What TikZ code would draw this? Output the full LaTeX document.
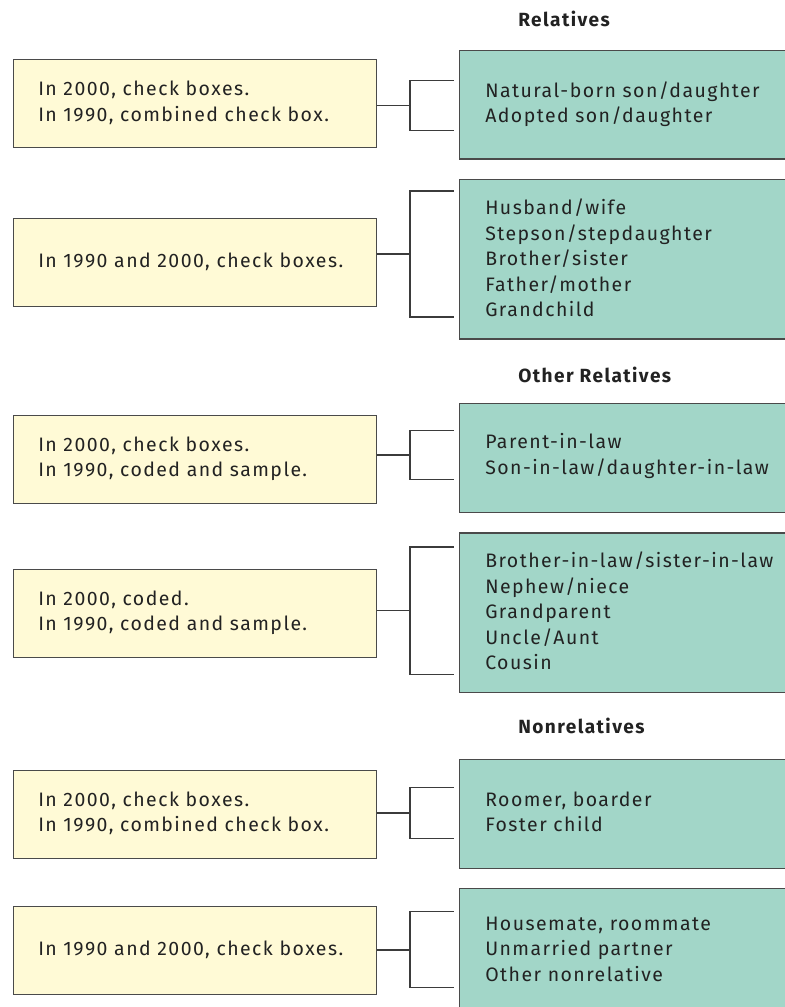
\documentclass[tikz,border=0pt]{standalone}
\usepackage{fontspec}
\setmainfont{Fira Sans}[LetterSpace=7.5]
\definecolor{yfill}{HTML}{FFFAD6}
\definecolor{gfill}{HTML}{A2D6C8}
\definecolor{edge}{HTML}{4A4A4A}
\definecolor{ink}{HTML}{222222}
\begin{document}
\begin{tikzpicture}[x=0.75pt,y=-0.75pt,
  ybox/.style={draw=edge,line width=1pt,fill=yfill,minimum width=272.25pt,inner sep=0pt,anchor=north west},
  gbox/.style={draw=edge,line width=1pt,fill=gfill,minimum width=250pt,inner sep=0pt,anchor=north west},
  txt/.style={anchor=west,align=left,inner sep=0pt,text=ink,font=\fontsize{14.6}{19.1}\selectfont},
  head/.style={anchor=west,inner sep=0pt,text=ink,font=\fontsize{14.3}{16}\selectfont\bfseries},
  conn/.style={draw=edge!80!black,line width=1.1pt}]
\useasboundingbox (0,0) rectangle (785,1007);
% headings
\node[head] (h1) at (518,19) {Relatives};
\node[head] (h2) at (518,375) {Other Relatives};
\node[head] (h3) at (518,726) {Nonrelatives};
% yellow boxes
\node[ybox,minimum height=66pt] (y1) at (12.5,59) {};
\node[ybox,minimum height=66pt] (y2) at (12.5,218) {};
\node[ybox,minimum height=66pt] (y3) at (12.5,415) {};
\node[ybox,minimum height=66pt] (y4) at (12.5,569) {};
\node[ybox,minimum height=66pt] (y5) at (12.5,770) {};
\node[ybox,minimum height=66pt] (y6) at (12.5,906) {};
% green boxes
\node[gbox,minimum height=81.2pt] (g1) at (458.5,50) {};
\node[gbox,minimum height=119.5pt] (g2) at (458.5,179) {};
\node[gbox,minimum height=82pt] (g3) at (458.5,402.7) {};
\node[gbox,minimum height=119.8pt] (g4) at (458.5,532.3) {};
\node[gbox,minimum height=81.8pt] (g5) at (458.5,759) {};
\node[gbox,minimum height=100pt] (g6) at (458.5,888) {};
% texts
\node[txt] (ty1) at (38,103) {In 2000, check boxes.\\In 1990, combined check box.};
\node[txt] (ty2) at (38,262) {In 1990 and 2000, check boxes.};
\node[txt] (ty3) at (38,458.5) {In 2000, check boxes.\\In 1990, coded and sample.};
\node[txt] (ty4) at (38,612.5) {In 2000, coded.\\In 1990, coded and sample.};
\node[txt] (ty5) at (38,813.5) {In 2000, check boxes.\\In 1990, combined check box.};
\node[txt] (ty6) at (38,950) {In 1990 and 2000, check boxes.};
\node[txt] (tg1) at (485,104) {Natural-born son/daughter\\Adopted son/daughter};
\node[txt] (tg2) at (485,258) {Husband/wife\\Stepson/stepdaughter\\Brother/sister\\Father/mother\\Grandchild};
\node[txt] (tg3) at (485,456) {Parent-in-law\\Son-in-law/daughter-in-law};
\node[txt] (tg4) at (485,611) {Brother-in-law/sister-in-law\\Nephew/niece\\Grandparent\\Uncle/Aunt\\Cousin};
\node[txt] (tg5) at (485,812) {Roomer, boarder\\Foster child};
\node[txt] (tg6) at (485,949) {Housemate, roommate\\Unmarried partner\\Other nonrelative};
% bracket coordinates
\coordinate (m1) at (410,105.5); \coordinate (a1) at (453.5,80.5); \coordinate (b1) at (453.5,130.5);
\coordinate (m2) at (410,254);   \coordinate (a2) at (453.5,191);  \coordinate (b2) at (453.5,317);
\coordinate (m3) at (410,455);   \coordinate (a3) at (453.5,430.7);\coordinate (b3) at (453.5,479.5);
\coordinate (m4) at (410,610.7); \coordinate (a4) at (453.5,547);  \coordinate (b4) at (453.5,674.3);
\coordinate (m5) at (410,813);   \coordinate (a5) at (453.5,787.7);\coordinate (b5) at (453.5,838.3);
\coordinate (m6) at (410,950);   \coordinate (a6) at (453.5,911.7);\coordinate (b6) at (453.5,987.7);
\foreach \i in {1,...,6}{
  \draw[conn] (y\i.east |- m\i) -- (m\i);
  \draw[conn] (a\i) -- (m\i |- a\i) -- (m\i |- b\i) -- (b\i);
}
\end{tikzpicture}
\end{document}
